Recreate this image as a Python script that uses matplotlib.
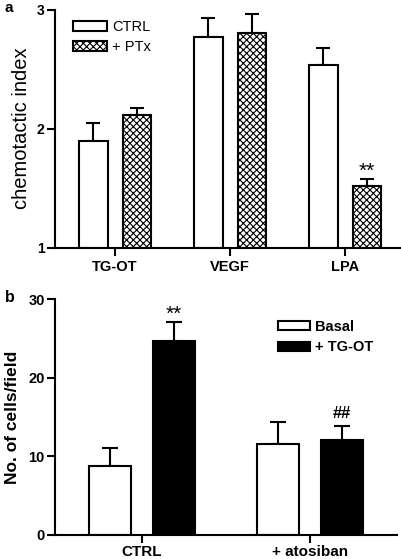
import numpy as np
import matplotlib as mpl
import matplotlib.pyplot as plt

mpl.rcParams.update({
    "font.family": ["Liberation Sans", "DejaVu Sans"],
    "hatch.linewidth": 0.8,
    "axes.linewidth": 1.5,
})

# panel a: chemotactic index
a_groups = ["TG-OT", "VEGF", "LPA"]
a_ctrl = [1.90, 2.77, 2.53]
a_ctrl_err = [0.15, 0.16, 0.15]
a_ptx = [2.11, 2.805, 1.52]
a_ptx_err = [0.06, 0.155, 0.06]
a_marks = ["", "", "**"]

# panel b: cells per field
b_groups = ["CTRL", "+ atosiban"]
b_basal = [8.8, 11.6]
b_basal_err = [2.2, 2.8]
b_tgot = [24.7, 12.1]
b_tgot_err = [2.4, 1.8]
b_marks = ["**", "##"]

OFF = 0.19
W = 0.25


def style_axes(ax, xsize, ysize, xpad):
    for s in ("top", "right"):
        ax.spines[s].set_visible(False)
    ax.tick_params(axis="both", direction="out", width=1.5, length=5.5)
    ax.tick_params(axis="x", labelsize=xsize, pad=xpad)
    ax.tick_params(axis="y", labelsize=ysize, pad=2)
    for lab in ax.get_xticklabels() + ax.get_yticklabels():
        lab.set_fontweight("bold")


fig = plt.figure(figsize=(4.02, 5.59), dpi=100)

# ---- panel a
ax = fig.add_axes([55 / 402, 1 - 247.7 / 559, 345 / 402, (247.7 - 9.5) / 559])
x = np.arange(len(a_groups))
ax.bar(x - OFF, np.array(a_ctrl) - 1, W, bottom=1, color="white",
       edgecolor="black", linewidth=1.5, label="CTRL", zorder=2)
ax.bar(x + OFF, np.array(a_ptx) - 1, W, bottom=1, color="white",
       edgecolor="black", linewidth=1.5, hatch="xxxxx", label="+ PTx", zorder=2)
ax.errorbar(x - OFF, a_ctrl, yerr=[np.zeros(3), a_ctrl_err], fmt="none",
            ecolor="black", elinewidth=1.5, capsize=5, capthick=1.5, zorder=1)
ax.errorbar(x + OFF, a_ptx, yerr=[np.zeros(3), a_ptx_err], fmt="none",
            ecolor="black", elinewidth=1.5, capsize=5, capthick=1.5, zorder=1)
for i, m in enumerate(a_marks):
    if m:
        ax.text(x[i] + OFF, a_ptx[i] + a_ptx_err[i] - 0.02, m, ha="center",
                va="bottom", fontsize=15)
ax.set_xlim(-0.522, 2.478)
ax.set_ylim(1, 3)
ax.set_yticks([1, 2, 3])
ax.set_xticks(x)
ax.set_xticklabels(a_groups)
ax.set_ylabel("chemotactic index", fontsize=14.5, labelpad=4)
style_axes(ax, 10.5, 10, 3)
ax.legend(loc="upper left", bbox_to_anchor=(0.052, 0.956), frameon=False,
          fontsize=10.5, handlelength=2.33, handleheight=0.68,
          handletextpad=0.35, labelspacing=0.41, borderaxespad=0, borderpad=0)
fig.text(5 / 402, 1 - 8 / 559, "a", fontsize=11, fontweight="bold",
         va="center", ha="left")

# ---- panel b
ax = fig.add_axes([55 / 402, 1 - 535 / 559, 342 / 402, (535 - 299) / 559])
x = np.arange(len(b_groups))
ax.bar(x - OFF, b_basal, W, color="white", edgecolor="black", linewidth=1.5,
       label="Basal", zorder=2)
ax.bar(x + OFF, b_tgot, W, color="black", edgecolor="black", linewidth=1.5,
       label="+ TG-OT", zorder=2)
ax.errorbar(x - OFF, b_basal, yerr=[np.zeros(2), b_basal_err], fmt="none",
            ecolor="black", elinewidth=1.5, capsize=6, capthick=1.5, zorder=1)
ax.errorbar(x + OFF, b_tgot, yerr=[np.zeros(2), b_tgot_err], fmt="none",
            ecolor="black", elinewidth=1.5, capsize=6, capthick=1.5, zorder=1)
for i, m in enumerate(b_marks):
    if m == "**":
        ax.text(x[i] + OFF, b_tgot[i] + b_tgot_err[i] - 0.3, m, ha="center",
                va="bottom", fontsize=15)
    else:
        ax.text(x[i] + OFF, b_tgot[i] + b_tgot_err[i] + 0.6, m, ha="center",
                va="bottom", fontsize=12, fontweight="bold")
ax.set_xlim(-0.515, 1.517)
ax.set_ylim(0, 30)
ax.set_yticks([0, 10, 20, 30])
ax.set_xticks(x)
ax.set_xticklabels(b_groups)
ax.set_ylabel("No. of cells/field", fontsize=12.5, fontweight="bold",
              labelpad=6)
style_axes(ax, 11, 10.5, 1.5)
ax.legend(loc="upper left", bbox_to_anchor=(0.652, 0.911), frameon=False,
          prop={"size": 10.5, "weight": "bold"}, handlelength=2.2,
          handleheight=0.6, handletextpad=0.35, labelspacing=0.44,
          borderaxespad=0, borderpad=0)
fig.text(5 / 402, 1 - 298 / 559, "b", fontsize=11.5, fontweight="bold",
         va="center", ha="left")

fig.savefig("out.png", dpi=100)
